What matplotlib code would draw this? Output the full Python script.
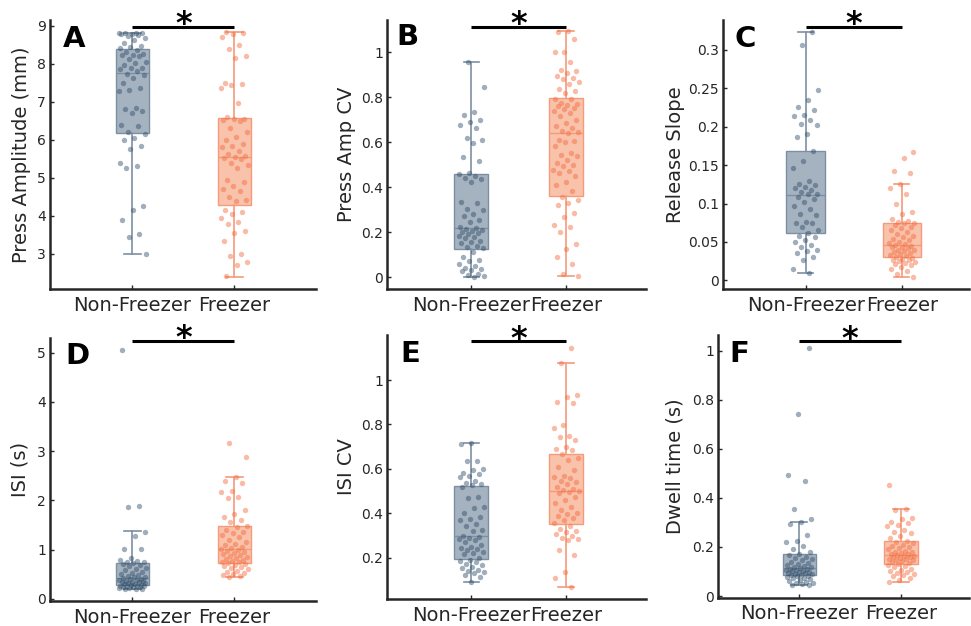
import matplotlib
matplotlib.use("Agg")
import matplotlib.pyplot as plt
import matplotlib.transforms as mtransforms
import numpy as np

plt.rcParams['font.family'] = ['DejaVu Sans']

groups = ["Non-Freezer", "Freezer"]
panel_letters = ["A", "B", "C", "D", "E", "F"]
y_labels = ["Press Amplitude (mm)", "Press Amp CV", "Release Slope",
            "ISI (s)", "ISI CV", "Dwell time (s)"]

# ---- per-animal values ----
amp_nf = [8.82, 8.81, 8.80, 8.80, 8.79, 8.78, 8.76, 8.72, 8.68, 8.62, 8.55, 8.47, 8.45, 8.42,
          8.36, 8.30, 8.25, 8.24, 8.22, 8.20, 8.12, 8.05, 8.02, 7.98, 7.90, 7.88, 7.85, 7.80,
          7.72, 7.70, 7.62, 7.50, 7.35, 7.32, 7.28, 6.85, 6.82, 6.75, 6.70, 6.40, 6.37, 6.20,
          6.15, 6.05, 6.00, 5.85, 5.75, 5.38, 5.30, 5.25, 4.27, 4.15, 3.90, 3.52, 3.45, 3.00]
amp_fr = [8.83, 8.82, 8.78, 8.70, 8.50, 8.38, 8.20, 8.15, 7.50, 7.47, 7.45, 7.35, 6.98, 6.60,
          6.56, 6.55, 6.53, 6.50, 6.30, 6.20, 6.08, 6.00, 5.90, 5.85, 5.80, 5.70, 5.62, 5.58,
          5.54, 5.52, 5.50, 5.40, 5.35, 5.25, 4.95, 4.88, 4.80, 4.70, 4.65, 4.50, 4.42, 4.38,
          4.15, 4.10, 4.05, 3.95, 3.85, 3.80, 3.60, 3.55, 3.35, 3.00, 2.95, 2.78, 2.70, 2.42]

ampcv_nf = [0.955, 0.846, 0.735, 0.72, 0.70, 0.69, 0.675, 0.665, 0.62, 0.61, 0.595, 0.535, 0.515, 0.465,
            0.458, 0.452, 0.44, 0.435, 0.425, 0.335, 0.33, 0.305, 0.30, 0.28, 0.27, 0.255, 0.245, 0.225, 0.22,
            0.216, 0.21, 0.205, 0.20, 0.195, 0.19, 0.185, 0.18, 0.172, 0.16, 0.155, 0.15, 0.14, 0.135, 0.128,
            0.11, 0.09, 0.075, 0.07, 0.06, 0.05, 0.04, 0.035, 0.03, 0.025, 0.015, 0.008, 0.004, 0.0]
ampcv_fr = [1.094, 1.09, 1.06, 1.003, 1.0, 0.955, 0.922, 0.918, 0.91, 0.896, 0.884, 0.881, 0.866,
            0.858, 0.836, 0.828, 0.821, 0.794, 0.791, 0.776, 0.769, 0.764, 0.761, 0.754, 0.746, 0.739,
            0.731, 0.716, 0.701, 0.687, 0.672, 0.664, 0.649, 0.645, 0.642, 0.612, 0.604, 0.60, 0.582,
            0.552, 0.545, 0.537, 0.522, 0.507, 0.50, 0.493, 0.478, 0.47, 0.463, 0.451, 0.425, 0.41,
            0.381, 0.358, 0.343, 0.328, 0.321, 0.284, 0.269, 0.231, 0.224, 0.201, 0.149, 0.127, 0.09,
            0.06, 0.015, 0.007]

slope_nf = [0.323, 0.307, 0.248, 0.235, 0.226, 0.222, 0.215, 0.214, 0.209, 0.203, 0.202, 0.19, 0.186,
            0.168, 0.155, 0.146, 0.129, 0.125, 0.124, 0.122, 0.12, 0.117, 0.115, 0.113, 0.112,
            0.109, 0.106, 0.102, 0.097, 0.093, 0.087, 0.085, 0.076, 0.075, 0.074, 0.07, 0.065, 0.062,
            0.058, 0.057, 0.053, 0.05, 0.046, 0.043, 0.04, 0.038, 0.036, 0.031, 0.026, 0.015, 0.009]
slope_fr = [0.167, 0.159, 0.143, 0.14, 0.126, 0.12, 0.113, 0.099, 0.089, 0.087, 0.08, 0.077, 0.076, 0.075,
            0.074, 0.072, 0.07, 0.068, 0.066, 0.063, 0.06, 0.058, 0.056, 0.054, 0.052, 0.05, 0.048, 0.047,
            0.046, 0.045, 0.044, 0.043, 0.042, 0.04, 0.039, 0.038, 0.037, 0.036, 0.034, 0.033, 0.032, 0.031,
            0.029, 0.028, 0.027, 0.026, 0.025, 0.024, 0.022, 0.021, 0.02, 0.018, 0.015, 0.012, 0.008, 0.004]

isi_nf = [5.05, 1.88, 1.86, 1.36, 1.27, 1.02, 1.01, 0.82, 0.79, 0.76, 0.75, 0.74,
          0.72, 0.70, 0.68, 0.66, 0.62, 0.60, 0.58, 0.55, 0.52, 0.50, 0.48, 0.46, 0.45, 0.44,
          0.42, 0.41, 0.40, 0.39, 0.38, 0.37, 0.36, 0.35, 0.34, 0.33, 0.32, 0.31, 0.30, 0.29,
          0.27, 0.27, 0.26, 0.26, 0.25, 0.25, 0.24, 0.23, 0.23, 0.22, 0.21, 0.20, 0.19, 0.19]
isi_fr = [3.17, 2.88, 2.47, 2.40, 2.36, 2.20, 2.16, 2.07, 2.05, 1.80, 1.72, 1.66, 1.60, 1.55,
          1.47, 1.45, 1.40, 1.35, 1.33, 1.30, 1.25, 1.20, 1.15, 1.12, 1.10, 1.06, 1.04, 1.02,
          1.00, 0.98, 0.96, 0.93, 0.90, 0.88, 0.86, 0.84, 0.82, 0.80, 0.78, 0.76, 0.75, 0.74,
          0.72, 0.70, 0.68, 0.66, 0.64, 0.62, 0.60, 0.57, 0.55, 0.52, 0.50, 0.48, 0.46, 0.45]

isicv_nf = [0.716, 0.712, 0.637, 0.635, 0.598, 0.595, 0.58, 0.578, 0.57, 0.565, 0.545, 0.535, 0.53, 0.526,
            0.52, 0.472, 0.467, 0.43, 0.425, 0.40, 0.385, 0.375, 0.37, 0.35, 0.345, 0.325, 0.32, 0.30,
            0.295, 0.29, 0.285, 0.28, 0.27, 0.255, 0.25, 0.245, 0.24, 0.235, 0.225, 0.22, 0.215, 0.20,
            0.19, 0.185, 0.18, 0.17, 0.165, 0.16, 0.155, 0.145, 0.14, 0.135, 0.13, 0.12, 0.115, 0.09]
isicv_fr = [1.146, 1.075, 0.932, 0.925, 0.90, 0.895, 0.797, 0.782, 0.75, 0.745, 0.73, 0.70, 0.69, 0.685,
            0.665, 0.65, 0.64, 0.61, 0.595, 0.57, 0.565, 0.56, 0.545, 0.54, 0.53, 0.52, 0.51, 0.505,
            0.50, 0.495, 0.49, 0.475, 0.46, 0.445, 0.43, 0.415, 0.40, 0.395, 0.39, 0.38, 0.37, 0.355,
            0.345, 0.33, 0.32, 0.315, 0.305, 0.30, 0.29, 0.285, 0.28, 0.235, 0.21, 0.135, 0.11, 0.068]

dwell_nf = [1.012, 0.742, 0.495, 0.468, 0.354, 0.312,
            0.30, 0.295, 0.248, 0.225, 0.222, 0.205, 0.19, 0.18,
            0.172, 0.168, 0.16, 0.155, 0.15, 0.145, 0.14, 0.135, 0.13, 0.125, 0.122, 0.12, 0.118, 0.116,
            0.112, 0.11, 0.108, 0.105, 0.102, 0.10, 0.098, 0.096, 0.094, 0.092, 0.09, 0.088, 0.086, 0.085,
            0.082, 0.08, 0.078, 0.075, 0.072, 0.07, 0.066, 0.062, 0.058, 0.055, 0.052, 0.048, 0.045, 0.043]
dwell_fr = [0.451, 0.354, 0.35, 0.32, 0.315, 0.30, 0.298, 0.29, 0.285, 0.27, 0.262, 0.255, 0.245, 0.235,
            0.225, 0.22, 0.215, 0.21, 0.205, 0.20, 0.195, 0.19, 0.185, 0.18, 0.178, 0.175, 0.172, 0.17,
            0.166, 0.164, 0.162, 0.16, 0.158, 0.155, 0.152, 0.15, 0.148, 0.145, 0.142, 0.138, 0.135, 0.132,
            0.128, 0.122, 0.118, 0.112, 0.105, 0.10, 0.098, 0.095, 0.09, 0.085, 0.08, 0.075, 0.065, 0.058]

# ---- box summaries: (whisker low, q1, median, q3, whisker high) ----
box_amp = [(3.00, 6.17, 7.77, 8.39, 8.82), (2.40, 4.29, 5.56, 6.57, 8.83)]
box_ampcv = [(0.0, 0.124, 0.218, 0.458, 0.955), (0.003, 0.363, 0.642, 0.797, 1.094)]
box_slope = [(0.009, 0.061, 0.111, 0.168, 0.323), (0.0043, 0.030, 0.0465, 0.074, 0.126)]
box_isi = [(0.19, 0.28, 0.43, 0.73, 1.375), (0.45, 0.73, 1.01, 1.48, 2.48)]
box_isicv = [(0.089, 0.194, 0.298, 0.524, 0.716), (0.066, 0.352, 0.502, 0.667, 1.075)]
box_dwell = [(0.043, 0.084, 0.114, 0.172, 0.30), (0.057, 0.131, 0.168, 0.226, 0.354)]

y_ticks = [[3, 4, 5, 6, 7, 8, 9],
           [0, 0.2, 0.4, 0.6, 0.8, 1],
           [0, 0.05, 0.1, 0.15, 0.2, 0.25, 0.3],
           [0, 1, 2, 3, 4, 5],
           [0.2, 0.4, 0.6, 0.8, 1],
           [0, 0.2, 0.4, 0.6, 0.8, 1]]
y_ticklabels = [["3", "4", "5", "6", "7", "8", "9"],
                ["0", "0.2", "0.4", "0.6", "0.8", "1"],
                ["0", "0.05", "0.1", "0.15", "0.2", "0.25", "0.3"],
                ["0", "1", "2", "3", "4", "5"],
                ["0.2", "0.4", "0.6", "0.8", "1"],
                ["0", "0.2", "0.4", "0.6", "0.8", "1"]]

values = [(amp_nf, amp_fr), (ampcv_nf, ampcv_fr), (slope_nf, slope_fr),
          (isi_nf, isi_fr), (isicv_nf, isicv_fr), (dwell_nf, dwell_fr)]
boxes = [box_amp, box_ampcv, box_slope, box_isi, box_isicv, box_dwell]

# ---- layout (pixel rectangles: left, top, right, bottom) ----
W, H = 971, 626
rects = [(50, 20, 316, 289), (387, 20, 646, 289), (723, 20, 969, 289),
         (50, 338, 316, 600.7), (387, 335, 646, 598.7), (718, 335, 969, 597.5)]
xlims = [(0.193, 2.80), (0.11, 2.845), (0.139, 2.70),
         (0.193, 2.80), (0.11, 2.845), (0.20, 2.67)]
ylims = [(2.08, 9.15), (-0.053, 1.144), (-0.0113, 0.339),
         (-0.04, 5.30), (0.0154, 1.203), (-0.006, 1.064)]
box_widths = [0.33, 0.36, 0.40, 0.33, 0.36, 0.33]
ylabel_x = [-0.073, -0.12, -0.154, -0.078, -0.12, -0.134]
letter_xy = [(0.049, 0.981), (0.035, 0.99), (0.048, 0.98),
             (0.056, 0.986), (0.05, 0.981), (0.047, 0.98)]
sig_y = [0.975, 0.975, 0.975, 0.989, 0.977, 0.977]

dark_cols = ["#2d4a66", "#f2683a"]
face_cols = ["#a5b3c0", "#f9c2ab"]
edge_cols = ["#7d90a3", "#f59b7b"]
text_col = "#262626"

fig = plt.figure(figsize=(W / 100, H / 100), dpi=100)

for k in range(6):
    l, t, r, b = rects[k]
    ax = fig.add_axes([l / W, 1 - b / H, (r - l) / W, (b - t) / H])
    ax.set_xlim(*xlims[k])
    ax.set_ylim(*ylims[k])

    stats = []
    for g in range(2):
        lo, q1, med, q3, hi = boxes[k][g]
        stats.append(dict(whislo=lo, q1=q1, med=med, q3=q3, whishi=hi, fliers=[]))
    art = ax.bxp(stats, positions=[1, 2], widths=box_widths[k], patch_artist=True,
                 showfliers=False, capwidths=0.16, manage_ticks=False)
    for g in range(2):
        box = art['boxes'][g]
        box.set_facecolor(face_cols[g])
        box.set_edgecolor(edge_cols[g])
        box.set_linewidth(1.0)
        box.set_zorder(1)
        art['medians'][g].set_color(edge_cols[g])
        art['medians'][g].set_linewidth(1.0)
        for w in art['whiskers'][2 * g:2 * g + 2]:
            w.set_color(edge_cols[g])
            w.set_linewidth(1.2)
            w.set_zorder(1)
        for c in art['caps'][2 * g:2 * g + 2]:
            c.set_color(edge_cols[g])
            c.set_linewidth(1.2)

    # individual animals with deterministic horizontal spread
    for g in range(2):
        v = np.asarray(values[k][g], dtype=float)
        n = len(v)
        frac = (np.arange(n) * 0.6180339887 + 0.37 * k + 0.21 * g) % 1.0
        xs = (g + 1) + (frac - 0.5) * 0.27
        ax.scatter(xs, v, s=15, color=dark_cols[g], alpha=0.45, linewidths=0, zorder=3)

    # significance bar with star
    trans = ax.get_xaxis_transform()
    ax.plot([1, 2], [sig_y[k], sig_y[k]], color="black", lw=2.2, transform=trans,
            clip_on=False, solid_capstyle="butt", zorder=5)
    star_trans = mtransforms.offset_copy(trans, fig=fig, x=0, y=-6.5, units="dots")
    ax.text(1.5, sig_y[k], "*", transform=star_trans, ha="center", va="baseline",
            fontsize=23, fontweight="bold", color="black", clip_on=False)

    ax.text(letter_xy[k][0], letter_xy[k][1], panel_letters[k], transform=ax.transAxes,
            ha="left", va="top", fontsize=21, fontweight="bold", color="black")

    ax.set_xticks([1, 2])
    ax.set_xticklabels(groups, fontsize=14, color=text_col)
    ax.set_yticks(y_ticks[k])
    ax.set_yticklabels(y_ticklabels[k], fontsize=10, color=text_col)
    ax.tick_params(axis="x", direction="in", length=3, width=1, pad=5, colors=text_col,
                   labelcolor=text_col)
    ax.tick_params(axis="y", direction="in", length=3, width=1, pad=3, colors=text_col,
                   labelcolor=text_col)
    ax.set_ylabel(y_labels[k], fontsize=14, color=text_col)
    ax.yaxis.set_label_coords(ylabel_x[k], 0.5)

    for side in ("top", "right"):
        ax.spines[side].set_visible(False)
    for side in ("left", "bottom"):
        ax.spines[side].set_linewidth(1.8)
        ax.spines[side].set_color(text_col)

fig.savefig("out.png", dpi=100)
